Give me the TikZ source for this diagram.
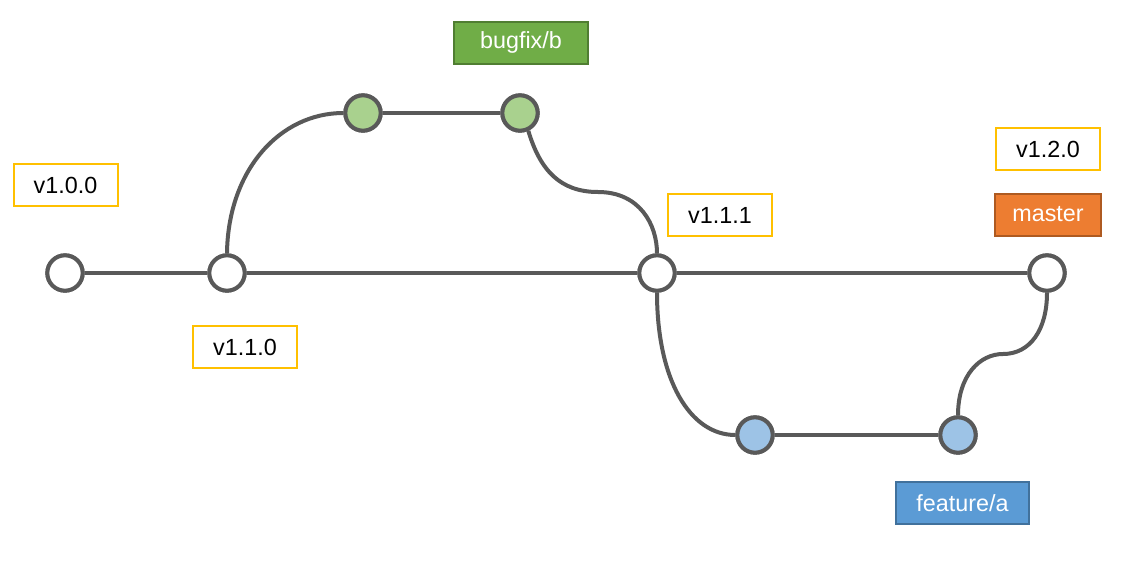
\documentclass[tikz,border=0pt]{standalone}
\usepackage{fontspec}
\setmainfont{Liberation Sans}
\definecolor{linegray}{HTML}{595959}
\definecolor{tagyellow}{HTML}{FFC000}
\definecolor{brgreen}{HTML}{70AD47}
\definecolor{brgreenb}{HTML}{507E32}
\definecolor{brorange}{HTML}{ED7D31}
\definecolor{brorangeb}{HTML}{AE5A21}
\definecolor{brblue}{HTML}{5B9BD5}
\definecolor{brblueb}{HTML}{41719C}
\definecolor{cgreen}{HTML}{A9D18E}
\definecolor{cblue}{HTML}{9DC3E6}
\begin{document}
\begin{tikzpicture}[x=0.75pt,y=-0.75pt,
  commit/.style={circle,draw=linegray,line width=3pt,minimum size=26.5pt,inner sep=0pt,fill=white},
  tagbox/.style={draw=tagyellow,line width=1.5pt,fill=white,minimum width=78pt,minimum height=31.5pt,inner sep=0pt,font=\fontsize{17.5}{20}\selectfont,text=black},
  branchbox/.style={line width=1.5pt,minimum height=31.5pt,inner sep=0pt,font=\fontsize{17.5}{20}\selectfont,text=white},
  conn/.style={draw=linegray,line width=3pt}]
\useasboundingbox (0,0) rectangle (1148,564);
% commits
\node[commit] (c1) at (65,273) {};
\node[commit] (c2) at (227,273) {};
\node[commit,fill=cgreen] (g1) at (363,113) {};
\node[commit,fill=cgreen] (g2) at (520,113) {};
\node[commit] (c3) at (657,273) {};
\node[commit] (c4) at (1047,273) {};
\node[commit,fill=cblue] (b1) at (755,435) {};
\node[commit,fill=cblue] (b2) at (958,435) {};
\coordinate (m1) at (598,192);
\coordinate (m2) at (1003,354);
% connectors
\path[conn] (c1) -- (c2);
\path[conn] (c2) -- (c3);
\path[conn] (c3) -- (c4);
\path[conn] (g1) -- (g2);
\path[conn] (b1) -- (b2);
\path[conn] (c2.north) .. controls (228,170) and (280,113) .. (g1.west);
\path[conn] (g2.-65) .. controls (540,170) and (560,192) .. (m1) .. controls (640,192) and (657,225) .. (c3.north);
\path[conn] (c3.south) .. controls (657,380) and (690,435) .. (b1.west);
\path[conn] (b2.north) .. controls (958,375) and (980,354) .. (m2) .. controls (1030,354) and (1047,330) .. (c4.south);
% commits drawn again over the line ends
\foreach \n in {c1,c2,c3,c4} \node[commit] at (\n) {};
\foreach \n in {g1,g2} \node[commit,fill=cgreen] at (\n) {};
\foreach \n in {b1,b2} \node[commit,fill=cblue] at (\n) {};
% labels
\node[branchbox,fill=brgreen,draw=brgreenb,minimum width=100pt] (lbug) at (521,42.5) {bugfix/b};
\node[tagbox] (t100) at (65.5,185) {v1.0.0};
\node[tagbox] (t110) at (245,347) {v1.1.0};
\node[tagbox] (t111) at (720,215) {v1.1.1};
\node[tagbox] (t120) at (1048,149) {v1.2.0};
\node[branchbox,fill=brorange,draw=brorangeb,minimum width=79pt] (lmaster) at (1048,214.5) {master};
\node[branchbox,fill=brblue,draw=brblueb,minimum width=100pt] (lfeat) at (962.5,503) {feature/a};
\end{tikzpicture}
\end{document}
